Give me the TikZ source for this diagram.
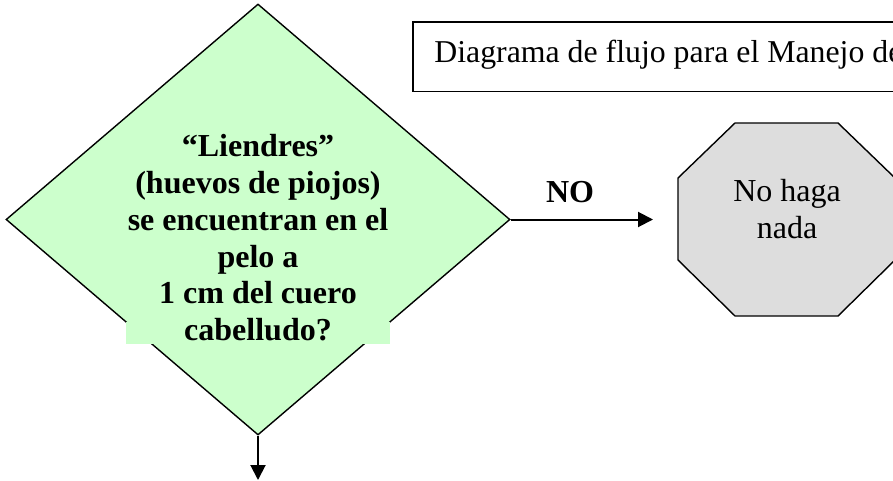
\documentclass[tikz,border=0pt]{standalone}
\usepackage{fontspec}
\setmainfont{Liberation Serif}
\usetikzlibrary{arrows.meta,shapes.geometric}
\definecolor{dgreen}{HTML}{CCFFCC}
\definecolor{sgray}{HTML}{DDDDDD}
\begin{document}
\begin{tikzpicture}[x=0.5pt,y=-0.5pt,
  border/.style={draw=black,line width=0.7pt},
  conn/.style={draw=black,line width=1pt,-{Triangle[length=7.5pt,width=7.5pt]}},
  qtext/.style={font=\bfseries\fontsize{16}{18.35}\selectfont, inner sep=0pt, align=center},
  stext/.style={font=\fontsize{16}{18.35}\selectfont, inner sep=0pt, align=center},
  ttext/.style={font=\fontsize{15.9}{18}\selectfont, inner sep=0pt}]
\clip (0,0) rectangle (893,481);
% title box
\draw[border] (413,22) rectangle (905,91.5);
\node[ttext, anchor=base west] (title) at (434,62.5) {Diagrama de flujo para el Manejo de};
% decision diamond
\node[diamond, border, fill=dgreen, minimum width=252pt, minimum height=215.5pt, inner sep=0pt] (q) at (258,219.5) {};
\fill[dgreen] (126,321.5) rectangle (390,344);
\node[qtext] (qt) at (258,237.8) {“Liendres”\\(huevos de piojos)\\se encuentran en el\\pelo a\\1 cm del cuero\\cabelludo?};
% stop octagon
\draw[border, fill=sgray] (735,123) -- (838,123) -- (895,178) -- (895,260) -- (838,316) -- (735,316) -- (678,260) -- (678,178) -- cycle;
\node[stext] (stop) at (787,209) {No haga\\nada};
% connectors
\coordinate (noend) at (653,219.5);
\coordinate (yesend) at (258,480);
\draw[conn] (q.east) -- (noend);
\node[qtext, anchor=base] (nolabel) at (570,202.5) {NO};
\draw[conn] (q.south) -- (yesend);
\end{tikzpicture}
\end{document}
